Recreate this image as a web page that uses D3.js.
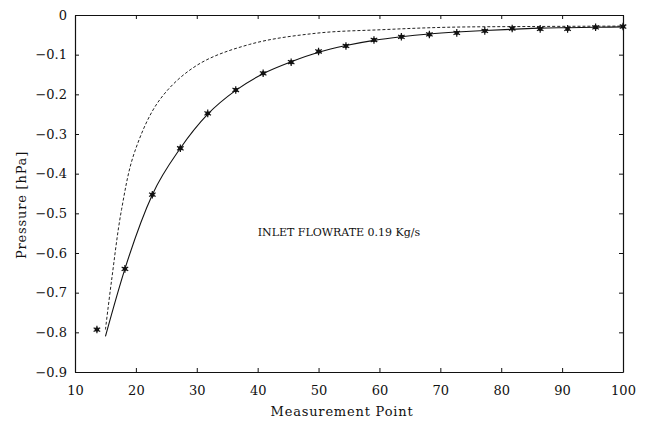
<!DOCTYPE html>
<html>
<head>
<meta charset="utf-8">
<script src="https://cdn.jsdelivr.net/npm/d3@7"></script>
<style>
  body { margin: 0; background: #fff; }
  svg text { font-family: "DejaVu Serif", "Liberation Serif", serif; fill: #111; }
</style>
</head>
<body>
<svg id="chart" width="645" height="425"></svg>
<script>
// measured points (stars)
var measX = [13.6, 18.2, 22.7, 27.3, 31.8, 36.4, 40.9, 45.5, 50.0, 54.5, 59.1, 63.6, 68.2, 72.7, 77.3, 81.8, 86.4, 90.9, 95.5, 100];
var measY = [-0.793, -0.640, -0.453, -0.336, -0.248, -0.189, -0.147, -0.119, -0.092, -0.078, -0.063, -0.055, -0.049, -0.045, -0.040, -0.034, -0.035, -0.035, -0.031, -0.029];

// solid fitted curve
var fitX = [15, 18.2, 22.7, 27.3, 31.8, 36.4, 40.9, 45.5, 50.0, 54.5, 59.1, 63.6, 68.2, 72.7, 77.3, 81.8, 86.4, 90.9, 95.5, 100];
var fitY = [-0.81, -0.64, -0.453, -0.336, -0.250, -0.190, -0.148, -0.118, -0.094, -0.077, -0.064, -0.055, -0.048, -0.043, -0.039, -0.036, -0.033, -0.032, -0.031, -0.030];

// dashed model curve
var modelX = [15, 16, 17.65, 19.8, 23.9, 30, 38.7, 49.6, 60.5, 70.9, 85, 100];
var modelY = [-0.793, -0.67, -0.49, -0.345, -0.214, -0.127, -0.074, -0.046, -0.037, -0.031, -0.029, -0.028];

var xTicks = [10, 20, 30, 40, 50, 60, 70, 80, 90, 100];
var yTicks = [0, -0.1, -0.2, -0.3, -0.4, -0.5, -0.6, -0.7, -0.8, -0.9];

var margin = { left: 75, right: 22, top: 15, bottom: 53 };
var svg = d3.select('#chart');
var width = 645 - margin.left - margin.right;
var height = 425 - margin.top - margin.bottom;

var x = d3.scaleLinear().domain([10, 100]).range([0, width]);
var y = d3.scaleLinear().domain([-0.9, 0]).range([height, 0]);

var g = svg.append('g')
    .attr('transform', 'translate(' + margin.left + ',' + margin.top + ')');

var yFmt = function (d) { return d === 0 ? '0' : d3.format('.1f')(d); };

// axes, ticks pointing inward
g.append('g')
    .attr('transform', 'translate(0,' + height + ')')
    .call(d3.axisBottom(x).tickValues(xTicks).tickSizeInner(-4).tickSizeOuter(0).tickPadding(14))
    .call(function (a) { a.selectAll('text').attr('font-size', 13); });
g.append('g')
    .call(d3.axisLeft(y).tickValues(yTicks).tickFormat(yFmt).tickSizeInner(-4).tickSizeOuter(0).tickPadding(8))
    .call(function (a) { a.selectAll('text').attr('font-size', 13); });
g.append('g')
    .call(d3.axisTop(x).tickValues(xTicks).tickSizeInner(-4).tickSizeOuter(0).tickFormat(''));
g.append('g')
    .attr('transform', 'translate(' + width + ',0)')
    .call(d3.axisRight(y).tickValues(yTicks).tickSizeInner(-4).tickSizeOuter(0).tickFormat(''));
g.selectAll('.domain').attr('stroke', '#111').attr('stroke-width', 1.2);
g.selectAll('.tick line').attr('stroke', '#111');

// lines
var line = d3.line()
    .x(function (d) { return x(d[0]); })
    .y(function (d) { return y(d[1]); });

g.append('path')
    .datum(d3.zip(modelX, modelY))
    .attr('d', line.curve(d3.curveCatmullRom.alpha(0.5)))
    .attr('fill', 'none')
    .attr('stroke', '#222')
    .attr('stroke-width', 1)
    .attr('stroke-dasharray', '3,2');

g.append('path')
    .datum(d3.zip(fitX, fitY))
    .attr('d', line.curve(d3.curveMonotoneX))
    .attr('fill', 'none')
    .attr('stroke', '#111')
    .attr('stroke-width', 1.1);

// star markers
var pts = g.selectAll('.pt')
    .data(d3.zip(measX, measY))
    .enter()
    .append('g')
    .attr('class', 'pt')
    .attr('transform', function (d) { return 'translate(' + x(d[0]) + ',' + y(d[1]) + ')'; });
pts.append('path')
    .attr('d', d3.symbol(d3.symbolAsterisk, 40))
    .attr('fill', 'none')
    .attr('stroke', '#111')
    .attr('stroke-width', 1.2);
pts.append('circle')
    .attr('r', 2.2)
    .attr('fill', '#111');

// texts
g.append('text')
    .attr('x', x(40))
    .attr('y', y(-0.558))
    .attr('font-size', 11)
    .text('INLET FLOWRATE 0.19 Kg/s');

svg.append('text')
    .attr('x', 342)
    .attr('y', 416)
    .attr('text-anchor', 'middle')
    .attr('font-size', 13)
    .attr('letter-spacing', 0.8)
    .text('Measurement Point');

svg.append('text')
    .attr('transform', 'translate(26,205) rotate(-90)')
    .attr('text-anchor', 'middle')
    .attr('font-size', 13)
    .attr('letter-spacing', 0.8)
    .text('Pressure [hPa]');
</script>
</body>
</html>
